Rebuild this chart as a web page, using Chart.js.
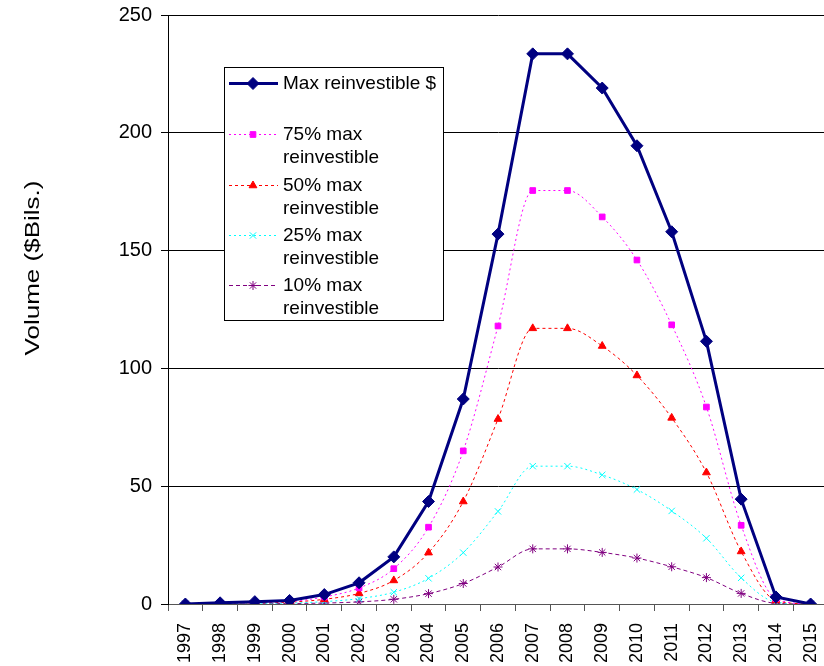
<!DOCTYPE html>
<html>
<head>
<meta charset="utf-8">
<script src="https://cdn.jsdelivr.net/npm/chart.js@4/dist/chart.umd.min.js"></script>
<style>
  html, body { margin: 0; padding: 0; background: #fff; overflow: hidden; }
  #wrap { width: 835px; height: 666px; }
</style>
</head>
<body>
<div id="wrap"><canvas id="c" width="835" height="666"></canvas></div>
<script>
const years = ['1997','1998','1999','2000','2001','2002','2003','2004','2005','2006',
               '2007','2008','2009','2010','2011','2012','2013','2014','2015'];
const yTicks = [0, 50, 100, 150, 200, 250];

const maxReinvestible = [0, 0.5, 1, 1.5, 4, 9, 20, 43.5, 87, 157, 233.5, 233.5, 219, 194.5, 158, 111.5, 44.5, 3, 0];
const pct75 = [0, 0.4, 0.8, 1.1, 3, 6.8, 15, 32.6, 65, 118, 175.5, 175.5, 164.3, 146, 118.5, 83.6, 33.4, 2.3, 0];
const pct50 = [0, 0.3, 0.5, 0.8, 2, 4.5, 10, 21.8, 43.5, 78.5, 117, 117, 109.5, 97, 79, 55.8, 22.3, 1.5, 0];
const pct25 = [0, 0.1, 0.3, 0.4, 1, 2.3, 5, 10.9, 21.8, 39.3, 58.5, 58.5, 54.8, 48.6, 39.5, 27.9, 11.1, 0.8, 0];
const pct10 = [0, 0.05, 0.1, 0.2, 0.4, 0.9, 2, 4.4, 8.7, 15.7, 23.4, 23.4, 21.9, 19.5, 15.8, 11.2, 4.5, 0.3, 0];

const yTitle = 'Volume ($Bils.)';
const legendRows = [
  { ds: 0, lines: ['Max reinvestible $'] },
  { ds: 1, lines: ['75% max', 'reinvestible'] },
  { ds: 2, lines: ['50% max', 'reinvestible'] },
  { ds: 3, lines: ['25% max', 'reinvestible'] },
  { ds: 4, lines: ['10% max', 'reinvestible'] }
];

const FONT = '"Liberation Sans", Arial, sans-serif';

// Vertical axis title, drawn slightly stretched along its length
const axisTitle = {
  id: 'axisTitle',
  afterDraw(chart) {
    const ctx = chart.ctx;
    ctx.save();
    ctx.translate(33, 268);
    ctx.rotate(-Math.PI / 2);
    ctx.scale(1.3, 1);
    ctx.font = '20px ' + FONT;
    ctx.fillStyle = '#000';
    ctx.textAlign = 'center';
    ctx.textBaseline = 'middle';
    ctx.fillText(yTitle, 0, 0);
    ctx.restore();
  }
};

// Legend panel inside the plot area, with wrapped two-line labels
const boxLegend = {
  id: 'boxLegend',
  afterDraw(chart) {
    const ctx = chart.ctx;
    const helpers = Chart.helpers;
    const x0 = 224, y0 = 67, w = 219, h = 253;
    const rowY = [83, 134, 185, 235, 285];
    ctx.save();
    ctx.fillStyle = '#fff';
    ctx.fillRect(x0, y0, w, h);
    ctx.strokeStyle = '#000';
    ctx.lineWidth = 1;
    ctx.strokeRect(x0 + 0.5, y0 + 0.5, w, h);
    ctx.font = '19px ' + FONT;
    ctx.textBaseline = 'middle';
    ctx.textAlign = 'left';
    legendRows.forEach((r, k) => {
      const d = chart.data.datasets[r.ds];
      const y = rowY[k];
      ctx.save();
      ctx.strokeStyle = d.borderColor;
      ctx.lineWidth = d.borderWidth;
      ctx.setLineDash(d.borderDash || []);
      ctx.beginPath();
      ctx.moveTo(229, y + 0.5);
      ctx.lineTo(278, y + 0.5);
      ctx.stroke();
      ctx.restore();
      ctx.save();
      ctx.fillStyle = d.pointBackgroundColor;
      ctx.strokeStyle = d.pointBorderColor;
      ctx.lineWidth = d.pointBorderWidth;
      ctx.setLineDash([]);
      helpers.drawPoint(ctx, { pointStyle: d.pointStyle, radius: d.pointRadius, borderWidth: d.pointBorderWidth, rotation: 0 }, 253, y + 0.5);
      ctx.restore();
      ctx.fillStyle = '#000';
      r.lines.forEach((t, i) => ctx.fillText(t, 283, y + 1 + i * 22.5));
    });
    ctx.restore();
  }
};

const ds = (label, data, color, style, radius, dash, width, smooth) => ({
  label, data,
  borderColor: color, backgroundColor: color,
  pointBackgroundColor: color, pointBorderColor: color,
  pointStyle: style, pointRadius: radius, pointBorderWidth: 1,
  borderDash: dash, borderWidth: width,
  cubicInterpolationMode: smooth ? 'monotone' : 'default',
  tension: 0, fill: false
});

new Chart(document.getElementById('c'), {
  type: 'line',
  data: {
    labels: years,
    datasets: [
      ds('Max reinvestible $', maxReinvestible, '#000080', 'rectRot', 6, [], 3, false),
      ds('75% max reinvestible', pct75, '#FF00FF', 'rect', 4, [2, 3], 1, true),
      ds('50% max reinvestible', pct50, '#FF0000', 'triangle', 4.5, [3, 3], 1, true),
      ds('25% max reinvestible', pct25, '#00FFFF', 'crossRot', 4.5, [2, 3], 1, true),
      ds('10% max reinvestible', pct10, '#800080', 'star', 4.5, [4, 3], 1, true)
    ]
  },
  options: {
    responsive: false,
    animation: false,
    devicePixelRatio: 1,
    layout: { padding: { top: 15, left: 0, right: 0, bottom: 0 } },
    plugins: {
      legend: { display: false },
      tooltip: { enabled: false }
    },
    scales: {
      x: {
        offset: true,
        grid: {
          offset: true,
          drawOnChartArea: false,
          drawTicks: true,
          tickLength: 7,
          color: '#555'
        },
        border: { color: '#555', width: 1 },
        ticks: {
          color: '#000',
          font: { family: FONT, size: 18 },
          minRotation: 90, maxRotation: 90,
          autoSkip: false,
          padding: 12
        },
        afterFit(s) {
          s.height = 62;
          s.paddingLeft = 0; s.paddingRight = 0;
        }
      },
      y: {
        min: 0, max: 250,
        afterBuildTicks(s) { s.ticks = yTicks.map(v => ({ value: v })); },
        grid: {
          color: '#000',
          lineWidth: 1,
          drawTicks: true,
          tickLength: 7,
          tickColor: '#000'
        },
        border: { color: '#000', width: 1 },
        ticks: {
          color: '#000',
          font: { family: FONT, size: 20 },
          padding: 9
        },
        afterFit(s) {
          s.width = 168;
          s.paddingTop = 0; s.paddingBottom = 0;
        }
      }
    }
  },
  plugins: [boxLegend, axisTitle]
});
</script>
</body>
</html>
